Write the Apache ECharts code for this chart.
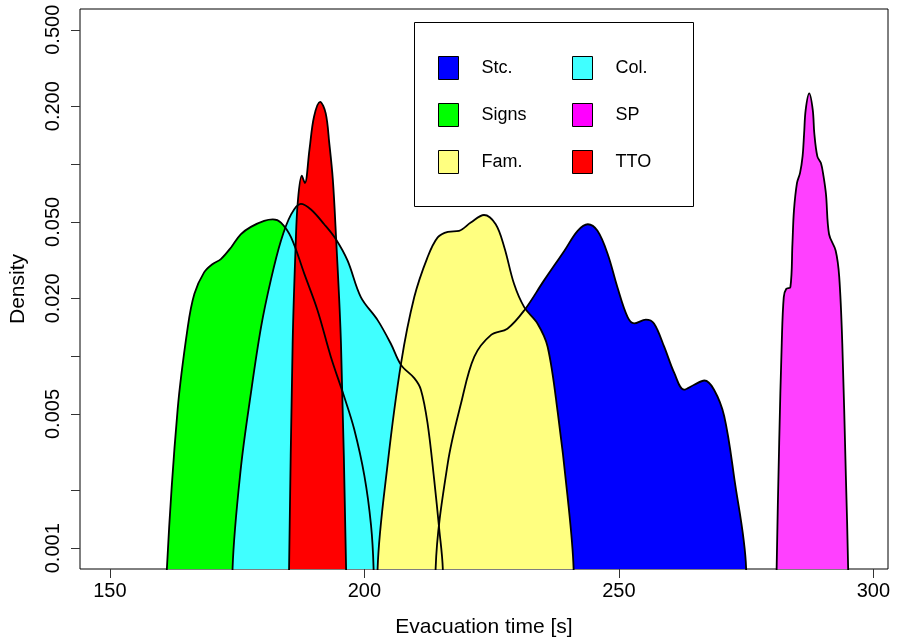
<!DOCTYPE html>
<html><head><meta charset="utf-8">
<script src="https://cdn.jsdelivr.net/npm/echarts@6/dist/echarts.min.js"></script>
<style>html,body{margin:0;padding:0;background:#fff}#c{width:898px;height:643px}</style>
</head><body><div id="c"></div>
<script>
// ---- data (x = evacuation time [s], y = density) ----
const stc = [[213.8,0.0003],[214.0,0.00079],[216.4,0.00279],[219.0,0.00570],[221.6,0.00994],[224.9,0.0129],[228.1,0.0139],[231.4,0.0173],[235.3,0.0248],[239.3,0.0354],[241.9,0.0449],[243.9,0.0486],[245.8,0.0449],[247.8,0.0340],[249.7,0.0229],[251.7,0.0160],[253.0,0.0148],[255.3,0.0155],[256.9,0.0148],[258.9,0.0112],[260.9,0.00815],[262.8,0.00669],[264.8,0.00710],[266.8,0.00747],[268.7,0.00669],[270.7,0.00487],[272.7,0.00229],[275.0,0.00079],[275.2,0.0003]];
const signs = [[160.9,0.0003],[161.2,0.00079],[163.3,0.00527],[165.3,0.0142],[166.6,0.0211],[168.5,0.0273],[170.2,0.0302],[171.8,0.0320],[173.8,0.0368],[175.7,0.0431],[177.7,0.0471],[180.3,0.0506],[182.0,0.0515],[183.6,0.0496],[185.6,0.0415],[188.2,0.0268],[190.8,0.0173],[193.4,0.00994],[196.0,0.00618],[198.0,0.00416],[200.0,0.00238],[201.3,0.00132],[201.8,0.00079],[202.0,0.0003]];
const fam = [[202.4,0.0003],[202.6,0.00079],[204.6,0.00279],[207.2,0.00918],[209.8,0.0203],[212.4,0.0327],[214.4,0.0415],[216.4,0.0444],[218.6,0.0449],[220.9,0.0496],[223.5,0.0543],[225.8,0.0486],[227.5,0.0368],[229.4,0.0238],[231.4,0.0180],[234.0,0.0148],[236.0,0.0112],[238.0,0.00506],[239.9,0.00188],[241.1,0.00079],[241.3,0.0003]];
const col = [[173.9,0.0003],[174.1,0.00079],[175.7,0.00258],[177.7,0.00642],[179.7,0.0142],[181.6,0.0248],[183.6,0.0399],[185.6,0.0547],[187.5,0.0621],[189.5,0.0580],[192.1,0.0486],[194.4,0.0406],[196.7,0.0314],[199.3,0.0203],[202.6,0.0154],[205.2,0.0116],[207.2,0.0090],[209.8,0.00768],[211.1,0.00669],[212.4,0.00449],[213.7,0.00229],[214.7,0.00126],[215.4,0.00079],[215.6,0.0003]];
const sp = [[280.8,0.0003],[281.0,0.00079],[281.5,0.00354],[282.0,0.0116],[282.4,0.0203],[282.9,0.0224],[283.7,0.0229],[284.1,0.0383],[284.4,0.0572],[285.0,0.0797],[285.6,0.0899],[286.1,0.110],[286.4,0.1446],[286.7,0.191],[287.4,0.233],[288.1,0.191],[288.4,0.1446],[289.0,0.1096],[289.7,0.1012],[290.2,0.0867],[290.7,0.0694],[291.3,0.0431],[292.6,0.0354],[293.3,0.0258],[293.9,0.0116],[294.6,0.00238],[295.05,0.00079],[295.2,0.0003]];
const tto = [[185.0,0.0003],[185.2,0.00079],[185.9,0.0116],[186.5,0.0383],[186.9,0.0629],[187.7,0.0870],[188.3,0.0797],[189.2,0.1186],[190.1,0.1764],[191.3,0.2109],[192.4,0.1835],[193.1,0.1284],[193.8,0.0830],[194.4,0.0431],[195.4,0.0116],[196.4,0.00079],[196.6,0.0003]];

const xTicks = [150, 200, 250, 300];
const yTicks = [0.001, 0.002, 0.005, 0.01, 0.02, 0.05, 0.1, 0.2, 0.5];
const yTickLabels = [0.001, 0.005, 0.02, 0.05, 0.2, 0.5];

// draw order (bottom to top) and colours
const groups = [
  {name: 'Stc.',  data: stc,   color: '#0000FF'},
  {name: 'Signs', data: signs, color: '#00FF00'},
  {name: 'Col.',  data: col,   color: '#40FFFF'},
  {name: 'Fam.',  data: fam,   color: '#FFFF80'},
  {name: 'TTO',   data: tto,   color: '#FF0000'},
  {name: 'SP',    data: sp,    color: '#FF40FF'}
];
const legendCol1 = ['Stc.', 'Signs', 'Fam.'];
const legendCol2 = ['Col.', 'SP', 'TTO'];
const legendColors = {'Stc.':'#0000FF','Signs':'#00FF00','Fam.':'#FFFF80','Col.':'#40FFFF','SP':'#FF00FF','TTO':'#FF0000'};

const FONT = "'Liberation Sans', Arial, Helvetica, sans-serif";

const series = [];
groups.forEach(g => {
  series.push({
    name: g.name, type: 'line', data: g.data, smooth: 0.35, showSymbol: false,
    color: g.color, lineStyle: {opacity: 0, width: 0},
    areaStyle: {color: g.color, opacity: 1}, silent: true, clip: true
  });
});
groups.forEach(g => {
  series.push({
    name: g.name + ' outline', type: 'line', data: g.data, smooth: 0.35, showSymbol: false,
    color: '#000', lineStyle: {color: '#000', width: 1.8}, silent: true, clip: true
  });
});

function legendDef(names, left) {
  return {
    orient: 'vertical', left: left, top: 56, padding: 0, itemWidth: 20, itemHeight: 23, itemGap: 23,
    icon: 'rect', selectedMode: false,
    itemStyle: {borderColor: '#000', borderWidth: 1},
    data: names.map(n => ({name: n, itemStyle: {color: legendColors[n], borderColor: '#000', borderWidth: 1}})),
    formatter: n => '{t|' + n + '}',
    textStyle: {color: '#000', fontFamily: FONT, fontSize: 18, rich: {t: {fontFamily: FONT, fontSize: 18, color: '#000', padding: [0, 0, 0, 18]}}}
  };
}

const chart = echarts.init(document.getElementById('c'), null, {renderer: 'canvas'});
chart.setOption({
  animation: false,
  backgroundColor: '#fff',
  textStyle: {fontFamily: FONT},
  grid: {left: 79, top: 9, width: 809, height: 564, show: true, borderColor: '#000', borderWidth: 1, backgroundColor: 'transparent'},
  xAxis: {
    type: 'value', min: 144.12, max: 302.88,
    name: 'Evacuation time [s]', nameLocation: 'middle', nameGap: 48,
    nameTextStyle: {fontFamily: FONT, fontSize: 21, color: '#000'},
    axisLine: {show: false}, splitLine: {show: false},
    axisTick: {show: true, length: 9, lineStyle: {color: '#333', width: 1}, customValues: xTicks},
    axisLabel: {fontFamily: FONT, fontSize: 20, color: '#000', margin: 12, customValues: xTicks}
  },
  yAxis: {
    type: 'log', logBase: 10, min: 0.00078, max: 0.6412,
    name: 'Density', nameLocation: 'middle', nameGap: 51,
    nameTextStyle: {fontFamily: FONT, fontSize: 21, color: '#000'},
    axisLine: {show: false}, splitLine: {show: false},
    axisTick: {show: true, length: 9, lineStyle: {color: '#333', width: 1}, customValues: yTicks},
    axisLabel: {fontFamily: FONT, fontSize: 20, color: '#000', margin: 17, rotate: 90,
      customValues: yTickLabels, formatter: v => Number(v).toFixed(3)}
  },
  legend: [legendDef(legendCol1, 438), legendDef(legendCol2, 572)],
  graphic: [{type: 'rect', left: 414, top: 22, z: -1, shape: {width: 279, height: 184},
    style: {fill: '#fff', stroke: '#000', lineWidth: 1}}],
  series: series
});
</script></body></html>
